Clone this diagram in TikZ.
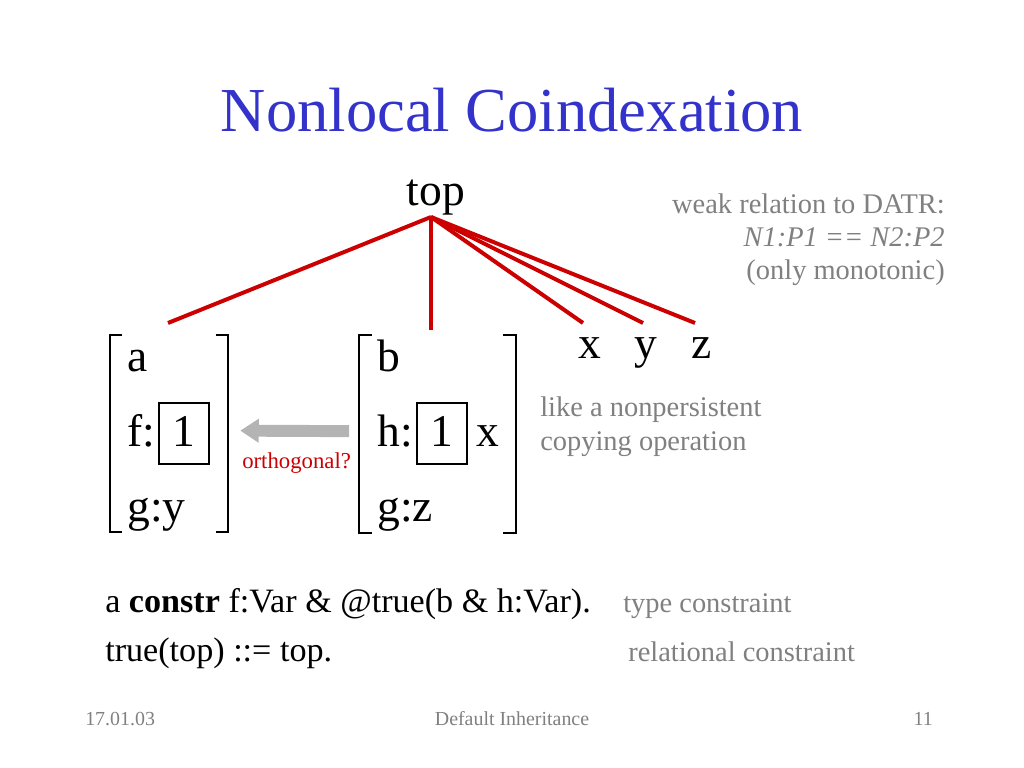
\documentclass[tikz,border=0pt]{standalone}
\usepackage{fontspec}
\setmainfont{Liberation Serif}
\usetikzlibrary{positioning,arrows.meta}
\definecolor{titleblue}{RGB}{51,51,204}
\definecolor{treered}{RGB}{204,0,0}
\definecolor{notegray}{RGB}{128,128,128}
\definecolor{arrowgray}{RGB}{180,180,180}
\begin{document}
\begin{tikzpicture}[
    x=0.703125pt, y=-0.703125pt,
    node distance=2pt,
    big/.style={font=\fontsize{32}{38}\selectfont, inner sep=0pt},
    tag/.style={draw, line width=1.4pt, inner sep=0pt, text width=35pt, align=center, text height=30pt, text depth=12.7pt, font=\fontsize{32}{38}\selectfont},
    avm/.style={inner sep=0pt, minimum width=#1, minimum height=138.5pt},
    note/.style={font=\fontsize{20}{23.5}\selectfont, text=notegray, inner sep=0pt},
    code/.style={font=\fontsize{24}{28}\selectfont, inner sep=0pt},
    foot/.style={font=\fontsize{14}{17}\selectfont, text=notegray, inner sep=0pt},
    branch/.style={treered, line width=2.8pt},
    bracket/.style={line width=1.4pt},
    copyarrow/.style={arrowgray, line width=8.4pt, -{Triangle[length=13pt, width=16pt]}}
]
    \path[use as bounding box] (0,0) rectangle (1024,768);

    % Title
    \node [font=\fontsize{44}{50}\selectfont, text=titleblue, anchor=base] (title) at (512,132) {Nonlocal Coindexation};

    % Tree root and leaves
    \node [big, anchor=base] (top) at (436,206) {top};
    \coordinate (topfoot) at (431,217);
    \node [big, anchor=base] (x) at (590,358) {x};
    \node [big, anchor=base] (y) at (646,358) {y};
    \node [big, anchor=base] (z) at (702,358) {z};
    \coordinate (footA) at (168,323);
    \coordinate (footB) at (431,330);
    \coordinate (footX) at (583,323);
    \coordinate (footY) at (643,323);
    \coordinate (footZ) at (695,323);

    % Left AVM
    \node [avm=83pt] (avmA) at (169,433.5) {};
    \node [big, anchor=base west] (aA) at (127,371) {a};
    \node [big, anchor=base west] (fA) at (127,446) {f:};
    \node [tag, base right=of fA] (tagA) {1};
    \node [big, anchor=base west] (gA) at (127,521) {g:y};

    % Right AVM
    \node [avm=110pt] (avmB) at (437.5,434) {};
    \node [big, anchor=base west] (bB) at (377,371) {b};
    \node [big, anchor=base west] (hB) at (377,446) {h:};
    \node [tag, base right=of hB] (tagB) {1};
    \node [big, base right=6pt of tagB] (xB) {x};
    \node [big, anchor=base west] (gB) at (377,521) {g:z};

    % Brackets
    \draw [bracket] ([xshift=9pt]avmA.north west) -- (avmA.north west) -- (avmA.south west) -- ([xshift=9pt]avmA.south west);
    \draw [bracket] ([xshift=-9pt]avmA.north east) -- (avmA.north east) -- (avmA.south east) -- ([xshift=-9pt]avmA.south east);
    \draw [bracket] ([xshift=9pt]avmB.north west) -- (avmB.north west) -- (avmB.south west) -- ([xshift=9pt]avmB.south west);
    \draw [bracket] ([xshift=-9pt]avmB.north east) -- (avmB.north east) -- (avmB.south east) -- ([xshift=-9pt]avmB.south east);

    % Branches
    \draw [branch] (topfoot) -- (footA);
    \draw [branch] (topfoot) -- (footB);
    \draw [branch] (topfoot) -- (footX);
    \draw [branch] (topfoot) -- (footY);
    \draw [branch] (topfoot) -- (footZ);

    % Copy arrow
    \draw [copyarrow] ([xshift=-7pt, yshift=2pt]avmB.west) -- ([xshift=8.4pt, yshift=2pt]avmA.east);
    \node [font=\fontsize{16}{19}\selectfont, text=treered, inner sep=0pt, anchor=base west] (orth) at (242,468) {orthogonal?};

    % Notes
    \node [note, align=right, anchor=base east] (datr) at (945,280) {weak relation to DATR:\\\textit{N1:P1 == N2:P2}\\(only monotonic)};
    \node [note, align=left, anchor=base west] (copy) at (540,450) {like a nonpersistent\\copying operation};

    % Constraints
    \node [code, anchor=base west] (typeline) at (105,612) {a \textbf{constr} f:Var \& @true(b \& h:Var).};
    \node [note, anchor=base west] (typenote) at (623,612) {type constraint};
    \node [code, anchor=base west] (relline) at (105,661) {true(top) ::= top.};
    \node [note, anchor=base west] (relnote) at (628,661) {relational constraint};

    % Footer
    \node [foot, anchor=base west] (date) at (85,725) {17.01.03};
    \node [foot, anchor=base] (talk) at (512,725) {Default Inheritance};
    \node [foot, anchor=base east] (page) at (933,725) {11};
\end{tikzpicture}
\end{document}
